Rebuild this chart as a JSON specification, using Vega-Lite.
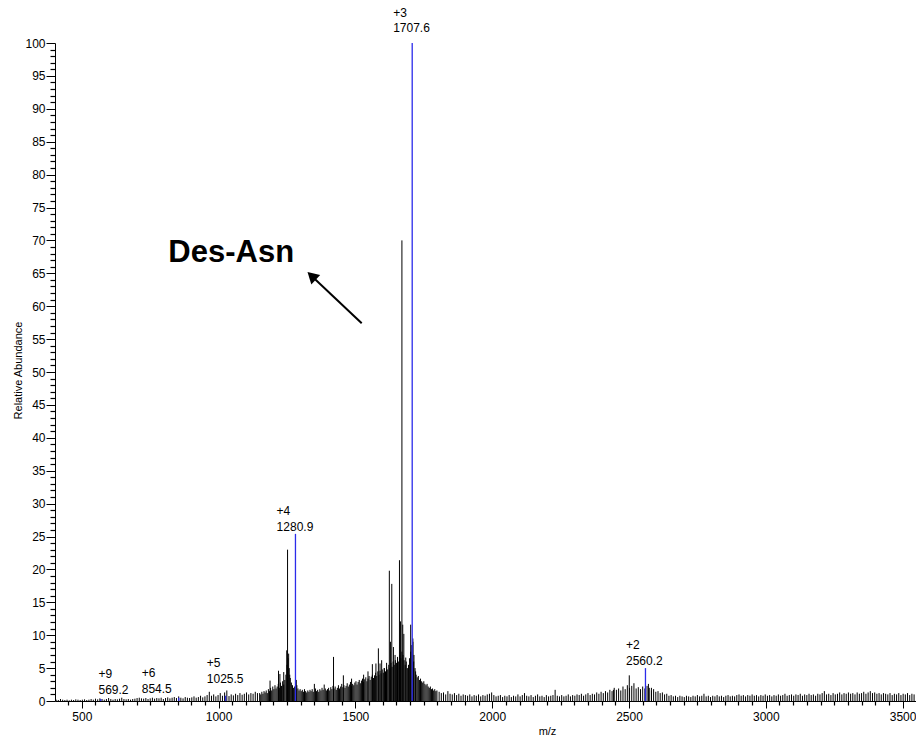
{
"$schema": "https://vega.github.io/schema/vega-lite/v6.json",
"width": 861, "height": 658,
"autosize": {"type": "none"},
"padding": {"left": 55, "top": 43, "right": 0, "bottom": 41},
"background": "white",
"config": {"view": {"stroke": null}, "font": "Liberation Sans",
 "axis": {"grid": false, "domainColor": "#000", "tickColor": "#000", "labelColor": "#000", "titleColor": "#000", "labelFont": "Liberation Sans", "titleFont": "Liberation Sans", "titleFontWeight": "normal", "labelFontSize": 12, "labelOverlap": false, "labelBound": false, "labelFlush": false}},
"datasets": {
"spec": [
{"m":406,"i":0.2},{"m":414,"i":0.15},{"m":422,"i":0.3},{"m":430,"i":0.2},{"m":438,"i":0.15},{"m":446,"i":0.2},{"m":454,"i":0.1},{"m":462,"i":0.2},{"m":470,"i":0.15},{"m":478,"i":0.25},{"m":486,"i":0.2},{"m":494,"i":0.15},{"m":502,"i":0.2},{"m":510,"i":0.25},{"m":518,"i":0.15},{"m":526,"i":0.2},{"m":534,"i":0.3},{"m":542,"i":0.2},{"m":550,"i":0.35},{"m":558,"i":0.25},{"m":566,"i":0.4},{"m":574,"i":0.3},{"m":582,"i":0.2},{"m":590,"i":0.3},{"m":598,"i":0.45},{"m":606,"i":0.3},{"m":614,"i":0.2},{"m":622,"i":0.3},{"m":630,"i":0.25},{"m":638,"i":0.35},{"m":646,"i":0.5},{"m":654,"i":0.3},{"m":662,"i":0.25},{"m":670,"i":0.3},{"m":678,"i":0.2},{"m":686,"i":0.3},{"m":694,"i":0.35},{"m":702,"i":0.45},{"m":710,"i":0.5},{"m":718,"i":0.4},{"m":726,"i":0.35},{"m":734,"i":0.45},{"m":742,"i":0.3},{"m":750,"i":0.4},{"m":758,"i":0.5},{"m":766,"i":0.35},{"m":774,"i":0.45},{"m":782,"i":0.4},{"m":790,"i":0.5},{"m":798,"i":0.3},{"m":806,"i":0.45},{"m":814,"i":0.55},{"m":822,"i":0.4},{"m":830,"i":0.5},{"m":838,"i":0.6},{"m":846,"i":0.45},{"m":854,"i":0.7},{"m":862,"i":0.5},{"m":870,"i":0.4},{"m":878,"i":0.6},{"m":886,"i":0.5},{"m":894,"i":0.45},{"m":902,"i":0.55},{"m":910,"i":0.7},{"m":918,"i":0.5},{"m":926,"i":0.6},{"m":934,"i":0.8},{"m":942,"i":0.55},{"m":950,"i":0.7},{"m":958,"i":0.9},{"m":966,"i":1.4},{"m":974,"i":0.8},{"m":982,"i":1.0},{"m":990,"i":0.7},{"m":998,"i":0.9},{"m":1006,"i":1.2},{"m":1014,"i":0.8},{"m":1022,"i":1.3},{"m":1030,"i":1.6},{"m":1038,"i":0.75},{"m":1046,"i":1.0},{"m":1054,"i":0.85},{"m":1062,"i":1.1},{"m":1070,"i":0.9},{"m":1078,"i":1.2},{"m":1086,"i":0.95},{"m":1094,"i":1.1},{"m":1102,"i":1.3},{"m":1110,"i":1.0},{"m":1118,"i":1.2},{"m":1126,"i":1.1},{"m":1134,"i":1.4},{"m":1142,"i":1.2},
{"m":1150,"i":1.2},{"m":1154,"i":1.0},{"m":1158,"i":1.4},{"m":1162,"i":1.1},{"m":1166,"i":1.5},{"m":1170,"i":1.3},{"m":1174,"i":1.6},{"m":1178,"i":1.2},{"m":1182,"i":1.8},{"m":1186,"i":1.5},{"m":1190,"i":2.0},{"m":1194,"i":1.6},{"m":1198,"i":2.2},{"m":1202,"i":1.8},{"m":1206,"i":2.4},{"m":1210,"i":1.9},{"m":1214,"i":2.2},{"m":1218,"i":2.6},{"m":1222,"i":2.0},{"m":1226,"i":2.8},{"m":1230,"i":2.3},{"m":1234,"i":3.0},{"m":1238,"i":2.5},{"m":1242,"i":3.2},{"m":1246,"i":4.0},{"m":1250,"i":5.5},{"m":1254,"i":6.5},{"m":1258,"i":5.0},{"m":1262,"i":3.5},{"m":1266,"i":2.8},{"m":1270,"i":2.4},{"m":1274,"i":2.0},{"m":1278,"i":2.2},{"m":1282,"i":1.8},{"m":1286,"i":2.4},{"m":1290,"i":1.9},{"m":1294,"i":1.6},{"m":1298,"i":1.8},{"m":1302,"i":1.5},{"m":1306,"i":1.7},{"m":1310,"i":1.4},{"m":1314,"i":1.8},{"m":1318,"i":1.5},{"m":1322,"i":1.3},{"m":1326,"i":1.6},{"m":1330,"i":1.4},{"m":1334,"i":1.7},{"m":1338,"i":1.5},{"m":1342,"i":1.8},{"m":1346,"i":1.4},{"m":1350,"i":2.6},{"m":1354,"i":1.9},{"m":1358,"i":1.5},{"m":1362,"i":1.7},{"m":1366,"i":1.4},{"m":1370,"i":1.8},{"m":1374,"i":1.6},{"m":1378,"i":2.0},{"m":1382,"i":1.7},{"m":1386,"i":2.5},{"m":1390,"i":1.9},{"m":1394,"i":1.6},{"m":1398,"i":1.8},{"m":1402,"i":2.0},{"m":1406,"i":1.6},{"m":1410,"i":2.1},{"m":1414,"i":1.8},{"m":1418,"i":2.3},{"m":1422,"i":1.9},{"m":1426,"i":2.2},{"m":1430,"i":1.7},{"m":1434,"i":2.0},{"m":1438,"i":2.4},{"m":1442,"i":1.9},{"m":1446,"i":2.2},{"m":1450,"i":2.6},{"m":1454,"i":2.1},{"m":1458,"i":2.4},{"m":1462,"i":2.0},{"m":1466,"i":2.3},{"m":1470,"i":2.7},{"m":1474,"i":2.2},{"m":1478,"i":2.5},{"m":1482,"i":2.9},{"m":1486,"i":2.3},{"m":1490,"i":2.6},{"m":1494,"i":2.4},{"m":1498,"i":2.8},{"m":1502,"i":3.0},{"m":1506,"i":2.5},{"m":1510,"i":2.9},{"m":1514,"i":3.2},{"m":1518,"i":2.7},{"m":1522,"i":3.1},{"m":1526,"i":3.4},{"m":1530,"i":2.9},{"m":1534,"i":3.3},{"m":1538,"i":3.6},{"m":1542,"i":3.0},{"m":1546,"i":3.4},{"m":1550,"i":3.8},{"m":1554,"i":3.2},{"m":1558,"i":3.7},{"m":1562,"i":4.0},{"m":1566,"i":3.5},{"m":1570,"i":3.9},{"m":1574,"i":4.3},{"m":1578,"i":3.8},{"m":1582,"i":4.5},{"m":1586,"i":4.0},{"m":1590,"i":4.6},{"m":1594,"i":4.2},{"m":1598,"i":4.8},{"m":1602,"i":4.3},{"m":1606,"i":5.0},{"m":1610,"i":4.5},{"m":1614,"i":5.2},{"m":1618,"i":4.8},{"m":1622,"i":5.5},{"m":1626,"i":5.0},{"m":1630,"i":5.8},{"m":1634,"i":5.2},{"m":1638,"i":6.0},{"m":1642,"i":5.5},{"m":1646,"i":6.2},{"m":1650,"i":5.8},{"m":1654,"i":6.5},{"m":1658,"i":6.0},{"m":1662,"i":7.0},{"m":1666,"i":6.5},{"m":1670,"i":7.5},{"m":1674,"i":7.0},{"m":1678,"i":6.2},{"m":1682,"i":5.5},{"m":1686,"i":6.0},{"m":1690,"i":5.0},{"m":1694,"i":5.5},{"m":1698,"i":6.5},{"m":1702,"i":7.5},{"m":1706,"i":8.5},{"m":1710,"i":9.0},{"m":1714,"i":7.0},{"m":1718,"i":5.0},{"m":1722,"i":4.0},{"m":1726,"i":3.6},{"m":1730,"i":3.8},{"m":1734,"i":3.2},{"m":1738,"i":3.4},{"m":1742,"i":3.0},{"m":1746,"i":2.8},{"m":1750,"i":3.0},{"m":1754,"i":2.6},{"m":1758,"i":2.4},{"m":1762,"i":2.6},{"m":1766,"i":2.2},{"m":1770,"i":2.0},{"m":1774,"i":2.2},{"m":1778,"i":1.8},{"m":1782,"i":1.9},{"m":1786,"i":1.6},{"m":1790,"i":1.8},{"m":1794,"i":1.5},{"m":1798,"i":1.6},
{"m":1806,"i":1.4},{"m":1814,"i":1.2},{"m":1822,"i":1.3},{"m":1830,"i":1.0},{"m":1838,"i":1.5},{"m":1846,"i":1.1},{"m":1854,"i":1.0},{"m":1862,"i":1.2},{"m":1870,"i":0.9},{"m":1878,"i":1.1},{"m":1886,"i":0.8},{"m":1894,"i":1.0},{"m":1902,"i":0.9},{"m":1910,"i":0.8},{"m":1918,"i":1.0},{"m":1926,"i":0.7},{"m":1934,"i":0.9},{"m":1942,"i":0.8},{"m":1950,"i":1.0},{"m":1958,"i":0.7},{"m":1966,"i":0.9},{"m":1974,"i":0.8},{"m":1982,"i":1.0},{"m":1990,"i":1.1},{"m":1998,"i":1.3},{"m":2006,"i":0.9},{"m":2014,"i":0.7},{"m":2022,"i":0.8},{"m":2030,"i":0.9},{"m":2038,"i":0.6},{"m":2046,"i":0.8},{"m":2054,"i":0.7},{"m":2062,"i":0.9},{"m":2070,"i":0.6},{"m":2078,"i":0.8},{"m":2086,"i":0.7},{"m":2094,"i":1.0},{"m":2102,"i":0.7},{"m":2110,"i":0.9},{"m":2118,"i":1.2},{"m":2126,"i":0.8},{"m":2134,"i":0.7},{"m":2142,"i":0.9},{"m":2150,"i":0.6},{"m":2158,"i":0.8},{"m":2166,"i":1.0},{"m":2174,"i":0.7},{"m":2182,"i":0.8},{"m":2190,"i":0.6},{"m":2198,"i":0.9},{"m":2206,"i":0.7},{"m":2214,"i":0.8},{"m":2222,"i":0.9},{"m":2230,"i":1.7},{"m":2238,"i":0.8},{"m":2246,"i":0.7},{"m":2254,"i":0.9},{"m":2262,"i":0.7},{"m":2270,"i":0.8},{"m":2278,"i":1.0},{"m":2286,"i":0.7},{"m":2294,"i":0.9},{"m":2302,"i":0.8},{"m":2310,"i":1.0},{"m":2318,"i":0.9},{"m":2326,"i":1.1},{"m":2334,"i":0.8},{"m":2342,"i":1.0},{"m":2350,"i":1.2},{"m":2358,"i":0.9},{"m":2366,"i":1.1},{"m":2374,"i":1.0},{"m":2382,"i":1.3},{"m":2390,"i":1.1},{"m":2398,"i":1.4},{"m":2406,"i":1.2},{"m":2414,"i":1.5},{"m":2422,"i":1.3},{"m":2430,"i":1.7},{"m":2438,"i":1.5},{"m":2446,"i":2.0},{"m":2454,"i":1.7},{"m":2462,"i":1.9},{"m":2470,"i":1.6},{"m":2478,"i":2.2},{"m":2486,"i":1.8},{"m":2494,"i":2.4},{"m":2502,"i":2.0},{"m":2510,"i":2.3},{"m":2518,"i":2.7},{"m":2526,"i":1.9},{"m":2534,"i":2.1},{"m":2542,"i":1.8},{"m":2550,"i":2.2},{"m":2558,"i":1.9},{"m":2566,"i":2.3},{"m":2574,"i":2.0},{"m":2582,"i":1.6},{"m":2590,"i":1.8},{"m":2598,"i":1.4},{"m":2606,"i":1.5},{"m":2614,"i":1.2},{"m":2622,"i":1.3},{"m":2630,"i":1.0},{"m":2638,"i":1.1},{"m":2646,"i":0.8},{"m":2654,"i":0.9},{"m":2662,"i":0.7},{"m":2670,"i":0.8},{"m":2678,"i":0.6},{"m":2686,"i":0.8},{"m":2694,"i":0.7},{"m":2702,"i":0.6},{"m":2710,"i":0.8},{"m":2718,"i":0.7},{"m":2726,"i":0.6},{"m":2734,"i":0.8},{"m":2742,"i":0.7},{"m":2750,"i":0.9},{"m":2758,"i":0.7},{"m":2766,"i":0.8},{"m":2774,"i":1.1},{"m":2782,"i":0.7},{"m":2790,"i":0.8},{"m":2798,"i":0.6},{"m":2806,"i":0.8},{"m":2814,"i":0.7},{"m":2822,"i":0.9},{"m":2830,"i":0.7},{"m":2838,"i":0.8},{"m":2846,"i":0.6},{"m":2854,"i":0.8},{"m":2862,"i":0.9},{"m":2870,"i":0.7},{"m":2878,"i":0.8},{"m":2886,"i":0.7},{"m":2894,"i":0.9},{"m":2902,"i":1.0},{"m":2910,"i":0.8},{"m":2918,"i":0.9},{"m":2926,"i":0.7},{"m":2934,"i":0.9},{"m":2942,"i":0.8},{"m":2950,"i":1.0},{"m":2958,"i":0.8},{"m":2966,"i":0.9},{"m":2974,"i":0.7},{"m":2982,"i":0.9},{"m":2990,"i":0.8},{"m":2998,"i":1.0},{"m":3006,"i":0.8},{"m":3014,"i":0.9},{"m":3022,"i":0.7},{"m":3030,"i":0.9},{"m":3038,"i":0.8},{"m":3046,"i":1.0},{"m":3054,"i":0.8},{"m":3062,"i":0.9},{"m":3070,"i":1.1},{"m":3078,"i":0.8},{"m":3086,"i":0.9},{"m":3094,"i":1.0},{"m":3102,"i":0.8},{"m":3110,"i":1.0},{"m":3118,"i":0.9},{"m":3126,"i":1.1},{"m":3134,"i":0.8},{"m":3142,"i":1.0},{"m":3150,"i":0.9},{"m":3158,"i":1.1},{"m":3166,"i":0.9},{"m":3174,"i":1.0},{"m":3182,"i":0.8},{"m":3190,"i":1.1},{"m":3198,"i":1.0},{"m":3206,"i":1.2},{"m":3214,"i":1.5},{"m":3222,"i":1.0},{"m":3230,"i":1.1},{"m":3238,"i":0.9},{"m":3246,"i":1.2},{"m":3254,"i":1.0},{"m":3262,"i":1.1},{"m":3270,"i":1.3},{"m":3278,"i":1.0},{"m":3286,"i":1.2},{"m":3294,"i":1.1},{"m":3302,"i":1.3},{"m":3310,"i":1.1},{"m":3318,"i":1.2},{"m":3326,"i":1.0},{"m":3334,"i":1.3},{"m":3342,"i":1.1},{"m":3350,"i":1.2},{"m":3358,"i":1.4},{"m":3366,"i":1.1},{"m":3374,"i":1.3},{"m":3382,"i":1.5},{"m":3390,"i":1.2},{"m":3398,"i":1.3},{"m":3406,"i":1.1},{"m":3414,"i":1.2},{"m":3422,"i":1.0},{"m":3430,"i":1.2},{"m":3438,"i":1.1},{"m":3446,"i":1.0},{"m":3454,"i":1.2},{"m":3462,"i":0.9},{"m":3470,"i":1.1},{"m":3478,"i":1.0},{"m":3486,"i":1.2},{"m":3494,"i":0.9},{"m":3502,"i":1.1},{"m":3510,"i":1.0},{"m":3518,"i":1.2},{"m":3526,"i":0.9},{"m":3534,"i":1.1},{"m":3542,"i":1.0},
{"m":1188,"i":3.1},{"m":1219,"i":4.6},{"m":1224,"i":4.1},{"m":1238,"i":4.4},{"m":1249,"i":7.7},{"m":1252,"i":23.0},{"m":1256,"i":7.2},{"m":1260,"i":4.0},{"m":1284,"i":3.2},{"m":1420,"i":6.7},{"m":1456,"i":3.9},{"m":1486,"i":3.4},{"m":1530,"i":4.0},{"m":1546,"i":4.5},{"m":1562,"i":5.6},{"m":1575,"i":5.7},{"m":1584,"i":8.0},{"m":1590,"i":5.7},{"m":1596,"i":6.2},{"m":1605,"i":5.0},{"m":1614,"i":5.8},{"m":1624,"i":19.8},{"m":1628,"i":9.0},{"m":1633,"i":17.8},{"m":1639,"i":8.2},{"m":1645,"i":7.0},{"m":1654,"i":6.7},{"m":1661,"i":21.4},{"m":1665,"i":12.1},{"m":1670,"i":70.0},{"m":1673,"i":11.6},{"m":1677,"i":10.2},{"m":1684,"i":6.6},{"m":1702,"i":11.6},{"m":1710,"i":9.5},{"m":1713,"i":6.0},{"m":1720,"i":4.5},{"m":2443,"i":1.7},{"m":2501,"i":3.9},{"m":2571,"i":2.6},{"m":2582,"i":2.0}
],
"blue": [{"m":569.2,"i":0.3},{"m":854.5,"i":0.5},{"m":1025.5,"i":0.8},{"m":1280.9,"i":25.4},{"m":1707.6,"i":100},{"m":2560.2,"i":5.0}],
"labels": [
{"t":"+3","m":1638,"i":104.6},{"t":"1707.6","m":1638,"i":102.3},
{"t":"+4","m":1212,"i":28.9},{"t":"1280.9","m":1212,"i":26.5},
{"t":"+2","m":2489,"i":8.5},{"t":"2560.2","m":2489,"i":6.1},
{"t":"+5","m":957,"i":5.8},{"t":"1025.5","m":957,"i":3.3},
{"t":"+9","m":561,"i":4.1},{"t":"569.2","m":561,"i":1.7},
{"t":"+6","m":719,"i":4.3},{"t":"854.5","m":719,"i":1.8}
],
"note": [{"t":"Des-Asn","m":1046,"i":68.1}],
"arrow": [{"m":1523,"i":57.4,"m2":1340,"i2":64.6}],
"head": [{"m":1340,"i":64.6}],
"frame": [{"m":402,"i":0},{"m":3549,"i":100}]
},
"layer": [
{
"encoding": {
  "x": {"field": "m", "type": "quantitative", "scale": {"domain": [402, 3549], "nice": false, "zero": false},
   "axis": {"orient": "bottom", "format": "d", "values": [500,1000,1500,2000,2500,3000,3500],
    "tickSize": 7, "labelPadding": 3, "title": "m/z", "titleFontSize": 11, "titleX": 492, "titleY": 30, "titleAnchor": "middle", "titleBaseline": "middle"}},
  "y": {"field": "i", "type": "quantitative", "scale": {"domain": [0, 100], "nice": false},
   "axis": {"orient": "left", "format": "d", "values": [0,5,10,15,20,25,30,35,40,45,50,55,60,65,70,75,80,85,90,95,100],
    "tickSize": 9, "labelPadding": 1, "title": "Relative Abundance", "titleFontSize": 11, "titleX": -37, "titleY": 327, "titleAngle": -90, "titleAlign": "center", "titleBaseline": "middle"}}
},
"layer": [
{"data": {"name": "spec"}, "mark": {"type": "rule", "color": "#000", "strokeWidth": 1},
 "encoding": {"y2": {"datum": 0}}},
{"data": {"name": "blue"}, "mark": {"type": "rule", "color": "#2b2bea", "strokeWidth": 1.3},
 "encoding": {"y2": {"datum": 0}}},
{"data": {"name": "labels"}, "mark": {"type": "text", "align": "left", "baseline": "middle", "fontSize": 12, "color": "#000", "font": "Liberation Sans"},
 "encoding": {"text": {"field": "t"}}},
{"data": {"name": "note"}, "mark": {"type": "text", "align": "center", "baseline": "middle", "fontSize": 31, "fontWeight": "bold", "color": "#000", "font": "Liberation Sans"},
 "encoding": {"text": {"field": "t"}}},
{"data": {"name": "arrow"}, "mark": {"type": "rule", "color": "#000", "strokeWidth": 2},
 "encoding": {"x2": {"field": "m2"}, "y2": {"field": "i2"}}},
{"data": {"name": "head"}, "mark": {"type": "point", "shape": "triangle-up", "filled": true, "color": "#000", "opacity": 1, "size": 170, "angle": 313},
 "encoding": {}}
]
},
{"data": {"name": "frame"}, "mark": {"type": "point", "opacity": 0},
 "encoding": {
  "x": {"field": "m", "type": "quantitative", "scale": {"domain": [402, 3549], "nice": false, "zero": false},
   "axis": {"orient": "bottom", "domain": false, "labels": false, "title": null, "tickSize": 4, "tickColor": "#000", "tickWidth": 1.2,
    "values": [450,550,600,650,700,750,800,850,900,950,1050,1100,1150,1200,1250,1300,1350,1400,1450,1550,1600,1650,1700,1750,1800,1850,1900,1950,2050,2100,2150,2200,2250,2300,2350,2400,2450,2550,2600,2650,2700,2750,2800,2850,2900,2950,3050,3100,3150,3200,3250,3300,3350,3400,3450]}},
  "y": {"field": "i", "type": "quantitative", "scale": {"domain": [0, 100], "nice": false},
   "axis": {"orient": "left", "domain": false, "labels": false, "title": null, "tickSize": 5, "tickColor": "#000", "tickWidth": 1.2,
    "values": [1,2,3,4,6,7,8,9,11,12,13,14,16,17,18,19,21,22,23,24,26,27,28,29,31,32,33,34,36,37,38,39,41,42,43,44,46,47,48,49,51,52,53,54,56,57,58,59,61,62,63,64,66,67,68,69,71,72,73,74,76,77,78,79,81,82,83,84,86,87,88,89,91,92,93,94,96,97,98,99]}}}}
],
"resolve": {"scale": {"x": "independent", "y": "independent"}, "axis": {"x": "independent", "y": "independent"}}
}
